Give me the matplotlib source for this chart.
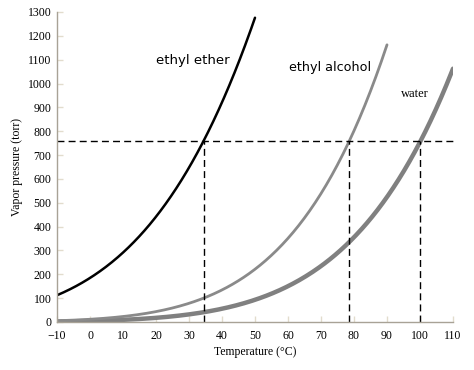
import matplotlib
matplotlib.use("Agg")
import matplotlib.pyplot as plt
import numpy as np

ether_t = [-10, 0, 10, 20, 30, 34.6, 40, 50]
ether_p = [112, 185, 292, 442, 647, 760, 921, 1280]
alcohol_t = [-10, 0, 10, 20, 30, 40, 50, 60, 70, 78.4, 80, 90]
alcohol_p = [5, 12, 24, 44, 79, 132, 215, 338, 530, 760, 813, 1195]
water_t = [-10, 0, 10, 20, 30, 40, 50, 60, 70, 80, 90, 100, 110]
water_p = [2, 4.6, 9.2, 17.5, 31.8, 55.3, 92.5, 149.4, 233.7, 355.1, 525.8, 760, 1062]
boil_t = [34.6, 78.4, 100]
atm = 760

def smooth(t, p):
    t = np.asarray(t, float)
    x = 1.0 / (t + 273.15)
    c = np.polyfit(x, np.log(p), 2)
    tt = np.linspace(t[0], t[-1], 300)
    return tt, np.exp(np.polyval(c, 1.0 / (tt + 273.15)))

fig = plt.figure(figsize=(4.74, 3.70), dpi=100)
ax = fig.add_axes([57/474, 48/370, 396/474, 310/370])

tt, pp = smooth(water_t, water_p)
ax.plot(tt, pp, color='#808080', lw=3.2, solid_capstyle='round')
tt, pp = smooth(alcohol_t, alcohol_p)
ax.plot(tt, pp, color='#8a8a8a', lw=2.0, solid_capstyle='round')
tt, pp = smooth(ether_t, ether_p)
ax.plot(tt, pp, color='black', lw=1.8, solid_capstyle='round')

ax.plot([-10, 110.5], [atm, atm], color='black', lw=1.0, ls=(0, (5, 3)), clip_on=False)
for b in boil_t:
    ax.plot([b, b], [0, atm], color='black', lw=1.0, ls=(0, (5, 3)))

ax.set_xlim(-10, 110)
ax.set_ylim(0, 1300)
ax.set_xticks(range(-10, 111, 10))
ax.set_yticks(range(0, 1301, 100))
ax.set_xticklabels(['\u221210'] + [str(v) for v in range(0, 111, 10)])

for s in ['top', 'right']:
    ax.spines[s].set_visible(False)
for s in ['left', 'bottom']:
    ax.spines[s].set_color('#a8a296')
    ax.spines[s].set_linewidth(1.0)
ax.tick_params(direction='in', length=4, color='#e2dccd', width=1,
               labelsize=8.5)
ax.tick_params(axis='x', pad=6)
ax.tick_params(axis='y', pad=4)
for lab in ax.get_xticklabels() + ax.get_yticklabels():
    lab.set_family('Liberation Serif')

ax.set_xlabel('Temperature (\u00b0C)', family='Liberation Serif', fontsize=8.5, labelpad=3)
ax.set_ylabel('Vapor pressure (torr)', family='Liberation Serif', fontsize=8.5, labelpad=3)

ax.text(31.2, 1098, 'ethyl ether', fontsize=9.5, family='DejaVu Sans', ha='center', va='center')
ax.text(72.7, 1069, 'ethyl alcohol', fontsize=9.2, family='DejaVu Sans', ha='center', va='center')
ax.text(98.5, 955, 'water', fontsize=9, family='Liberation Serif', ha='center', va='center')

fig.savefig('out.png', dpi=100)
